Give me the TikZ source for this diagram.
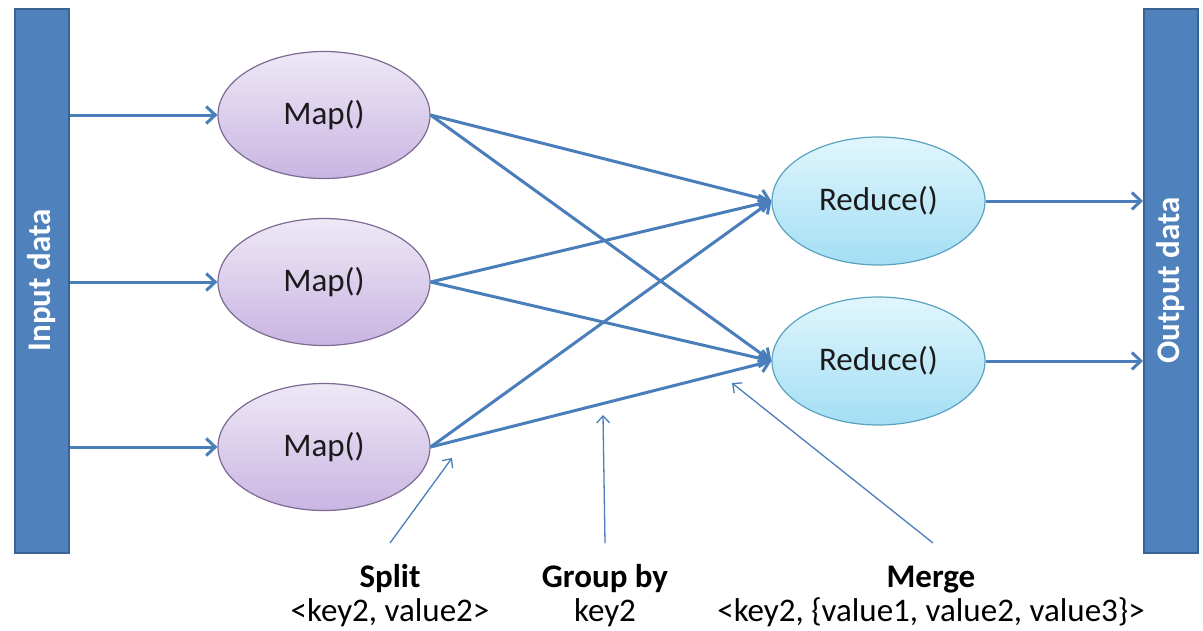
\documentclass[tikz,border=0pt]{standalone}
\usepackage{fontspec}
\setmainfont{Carlito}
\usetikzlibrary{shapes.geometric,arrows.meta}

\definecolor{barfill}{HTML}{4F81BD}
\definecolor{barline}{HTML}{3A6395}
\definecolor{flowblue}{HTML}{4A7EBB}
\definecolor{maptop}{HTML}{EEE8F6}
\definecolor{mapbot}{HTML}{C9B5E2}
\definecolor{mapline}{HTML}{7D6A93}
\definecolor{redtop}{HTML}{E0F6FD}
\definecolor{redbot}{HTML}{A3DEF4}
\definecolor{redline}{HTML}{5AA2BE}
\definecolor{txt}{HTML}{1A1A1A}

\tikzset{
  bigtext/.style={font=\fontsize{33}{34}\selectfont},
  databar/.style={rectangle, draw=barline, line width=2pt, fill=barfill,
    minimum width=54pt, minimum height=544pt, inner sep=0pt},
  bartext/.style={font=\fontsize{33}{35}\selectfont\bfseries,
    text=white, rotate=90},
  mapnode/.style={ellipse, draw=mapline, line width=1.2pt,
    top color=maptop, bottom color=mapbot,
    minimum width=212pt, minimum height=127pt, inner sep=0pt,
    bigtext, text=txt},
  rednode/.style={ellipse, draw=redline, line width=1.2pt,
    top color=redtop, bottom color=redbot,
    minimum width=213pt, minimum height=128pt, inner sep=0pt,
    bigtext, text=txt},
  flow/.style={draw=flowblue, line width=3pt,
    -{Straight Barb[length=9pt,width=17pt,line width=3pt]}},
  pointer/.style={draw=flowblue, line width=1.3pt,
    -{Straight Barb[length=7pt,width=13pt,line width=1.3pt]}},
  caption/.style={bigtext, text=black, align=center, inner sep=0pt}
}

\begin{document}
\begin{tikzpicture}[x=1pt,y=-1pt]
  \useasboundingbox (0,0) rectangle (1203,630);

  % input and output bars
  \node[databar] (in) at (42,280.5) {};
  \node[bartext] at (in) {Input data};
  \node[databar] (out) at (1171,280.5) {};
  \node[bartext] at (out) {Output data};

  % map and reduce stages
  \node[mapnode] (m1) at (324,115) {Map()};
  \node[mapnode] (m2) at (324,282) {Map()};
  \node[mapnode] (m3) at (324,447) {Map()};
  \node[rednode] (r1) at (878.5,201) {Reduce()};
  \node[rednode] (r2) at (878.5,361) {Reduce()};

  % input feeds
  \draw[flow] (in.east |- m1.west) -- (m1.west);
  \draw[flow] (in.east |- m2.west) -- (m2.west);
  \draw[flow] (in.east |- m3.west) -- (m3.west);

  % shuffle: every map feeds every reducer
  \foreach \m in {m1,m2,m3}{
    \draw[flow] (\m.east) -- (r1.west);
    \draw[flow] (\m.east) -- (r2.west);
  }

  % output feeds
  \draw[flow] (r1.east) -- (r1.east -| out.west);
  \draw[flow] (r2.east) -- (r2.east -| out.west);

  % phase captions (base anchor sits on the second line)
  \node[caption, anchor=base] (split) at (390,621)
    {\textbf{Split}\\<key2, value2>};
  \node[caption, anchor=base] (group) at (605,621)
    {\textbf{Group by}\\key2};
  \node[caption, anchor=base] (merge) at (931,621)
    {\textbf{Merge}\\<key2, \{value1, value2, value3\}>};

  \coordinate (splitTail) at (390,543);
  \coordinate (splitTip)  at (452,458);
  \coordinate (groupTail) at (605,543);
  \coordinate (groupTip)  at (603,415);
  \coordinate (mergeTail) at (933,543);
  \coordinate (mergeTip)  at (732,383);

  \draw[pointer] (splitTail) -- (splitTip);
  \draw[pointer] (groupTail) -- (groupTip);
  \draw[pointer] (mergeTail) -- (mergeTip);
\end{tikzpicture}
\end{document}
